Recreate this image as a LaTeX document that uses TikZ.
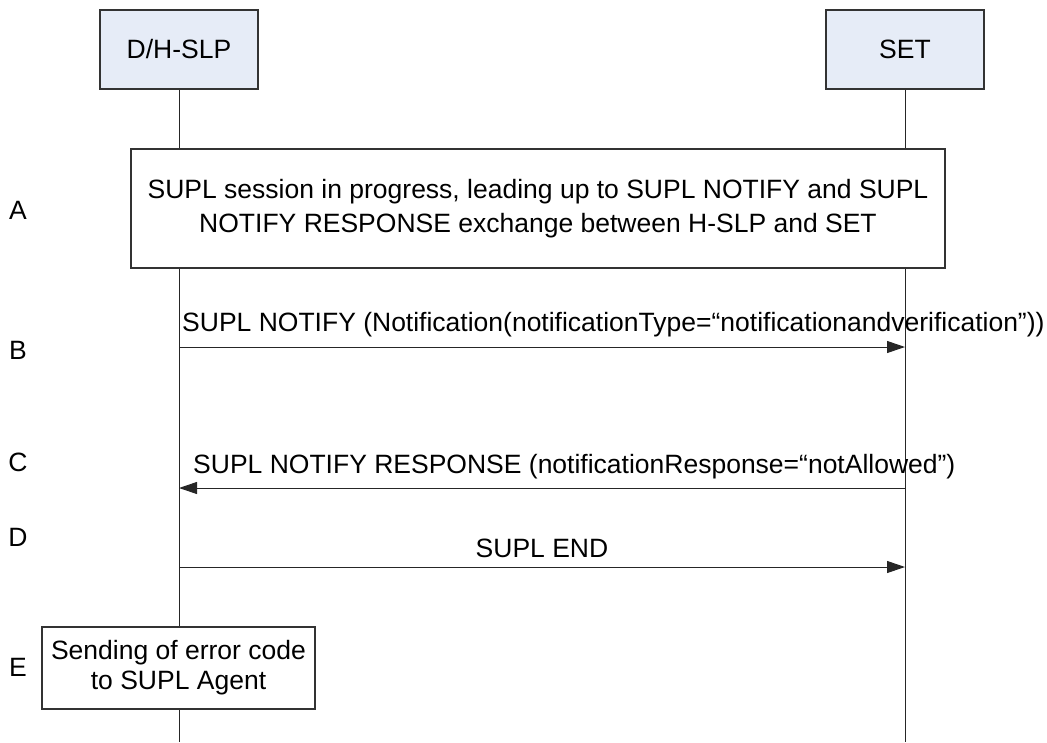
\documentclass[tikz,border=0pt]{standalone}
\usepackage{fontspec}
\setmainfont{Liberation Sans}
\usetikzlibrary{arrows.meta}
\begin{document}
\begin{tikzpicture}[x=1pt,y=-1pt,
  every node/.style={font=\fontsize{26.5}{30}\selectfont, inner sep=0pt},
  hdr/.style={draw=black!80, line width=1.3pt, fill=hdrblue, minimum width=158pt, minimum height=79pt},
  procbox/.style={draw=black!80, line width=1.3pt, fill=white, align=center},
  life/.style={draw=black!85, line width=1pt},
  msg/.style={draw=black!85, line width=1pt, -{Triangle[length=18pt,width=12pt]}},
  steplabel/.style={anchor=center}
]
\definecolor{hdrblue}{HTML}{E6ECF7}
\useasboundingbox (0,0) rectangle (1047,742);
% headers
\node[hdr] (slp) at (179,49.5) {D/H-SLP};
\node[hdr] (set) at (905,49.5) {SET};
\coordinate (slpEnd) at (179,742);
\coordinate (setEnd) at (905,742);
\draw[life] (slp.south) -- (slpEnd);
\draw[life] (set.south) -- (setEnd);
% box A
\node[procbox, minimum width=814pt, minimum height=119pt, font=\fontsize{26.5}{34}\selectfont] (boxA) at (538,208.5)
  {SUPL session in progress, leading up to SUPL NOTIFY and SUPL\\NOTIFY RESPONSE exchange between H-SLP and SET};
% box E
\node[procbox, minimum width=273pt, minimum height=82pt] (boxE) at (178.5,668)
  {Sending of error code\\to SUPL Agent};
% messages
\coordinate (b1) at (179,347); \coordinate (b2) at (905,347);
\coordinate (c1) at (179,488); \coordinate (c2) at (905,488);
\coordinate (d1) at (179,567); \coordinate (d2) at (905,567);
\draw[msg] (b1) -- (b2);
\draw[msg] (c2) -- (c1);
\draw[msg] (d1) -- (d2);
\node[anchor=base west] (tb) at (182,331) {SUPL NOTIFY (Notification(notificationType=“notificationandverification”))};
\node[anchor=base west] (tc) at (193,473) {SUPL NOTIFY RESPONSE (notificationResponse=“notAllowed”)};
\node[anchor=base] (td) at (542,557) {SUPL END};
% step letters
\node[steplabel] (lA) at (18,210) {A};
\node[steplabel] (lB) at (18,350) {B};
\node[steplabel] (lC) at (18,462) {C};
\node[steplabel] (lD) at (18,537) {D};
\node[steplabel] (lE) at (18,667) {E};
\end{tikzpicture}
\end{document}
